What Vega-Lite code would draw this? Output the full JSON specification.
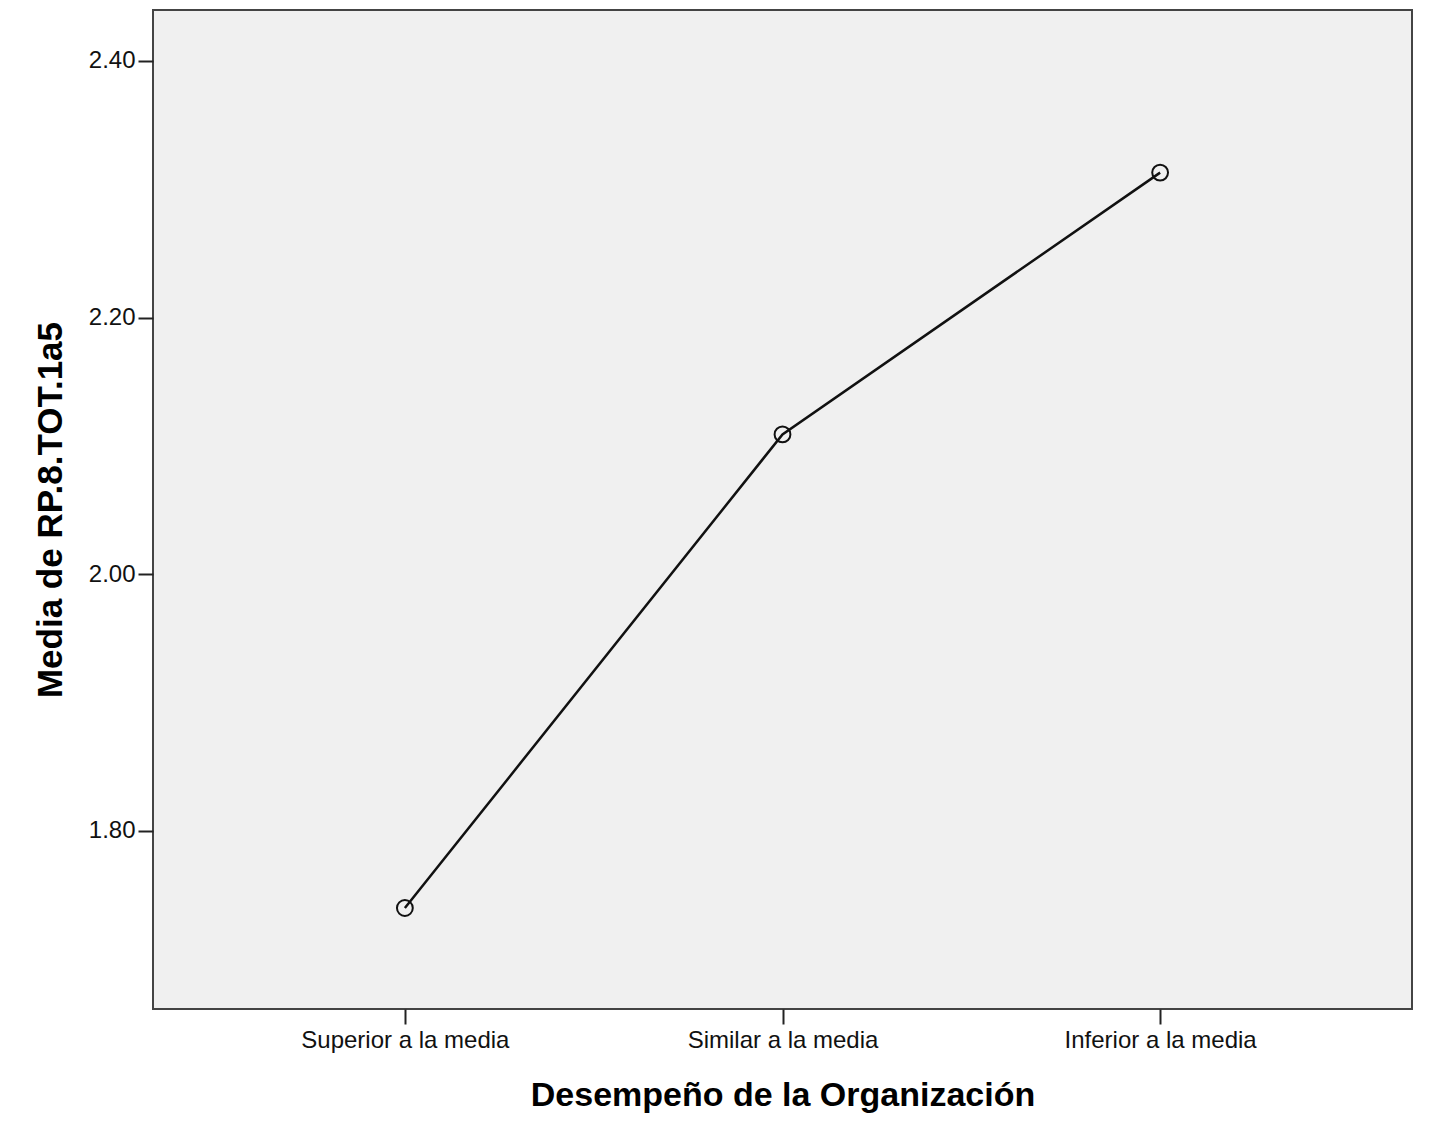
{
  "$schema": "https://vega.github.io/schema/vega-lite/v6.json",
  "width": 1259,
  "height": 999,
  "autosize": "none",
  "padding": {"left": 153, "top": 10, "right": 17, "bottom": 137},
  "background": "white",
  "config": {
    "view": {"fill": "#f0f0f0", "stroke": "#444444", "strokeWidth": 2},
    "font": "Liberation Sans"
  },
  "data": {
    "values": [
      {"Desempeno": "Superior a la media", "Media": 1.740},
      {"Desempeno": "Similar a la media", "Media": 2.109},
      {"Desempeno": "Inferior a la media", "Media": 2.313}
    ]
  },
  "encoding": {
    "x": {
      "field": "Desempeno", "type": "ordinal",
      "sort": ["Superior a la media", "Similar a la media", "Inferior a la media"],
      "scale": {"type": "point", "padding": 0.667},
      "title": "Desempeño de la Organización",
      "axis": {
        "labelAngle": 0, "labelFontSize": 24, "labelColor": "#111", "labelPadding": 4, "labelLimit": 500,
        "tickSize": 15, "tickColor": "#222", "tickWidth": 2,
        "domain": false, "grid": false,
        "titleFontSize": 34, "titleFontWeight": "bold", "titleColor": "#000", "titlePadding": 26
      }
    },
    "y": {
      "field": "Media", "type": "quantitative",
      "scale": {"domain": [1.6613, 2.4397], "nice": false, "zero": false},
      "title": "Media de RP.8.TOT.1a5",
      "axis": {
        "values": [1.8, 2.0, 2.2, 2.4], "format": ".2f",
        "labelFontSize": 24, "labelColor": "#111", "labelPadding": 3,
        "tickSize": 15, "tickColor": "#222", "tickWidth": 2,
        "domain": false, "grid": false,
        "titleFontSize": 35, "titleFontWeight": "bold", "titleColor": "#000", "titlePadding": 20
      }
    }
  },
  "layer": [
    {"mark": {"type": "line", "color": "#111", "strokeWidth": 2.5}},
    {"mark": {"type": "point", "shape": "circle", "filled": false, "size": 250, "stroke": "#111", "strokeWidth": 2, "opacity": 1}}
  ]
}
